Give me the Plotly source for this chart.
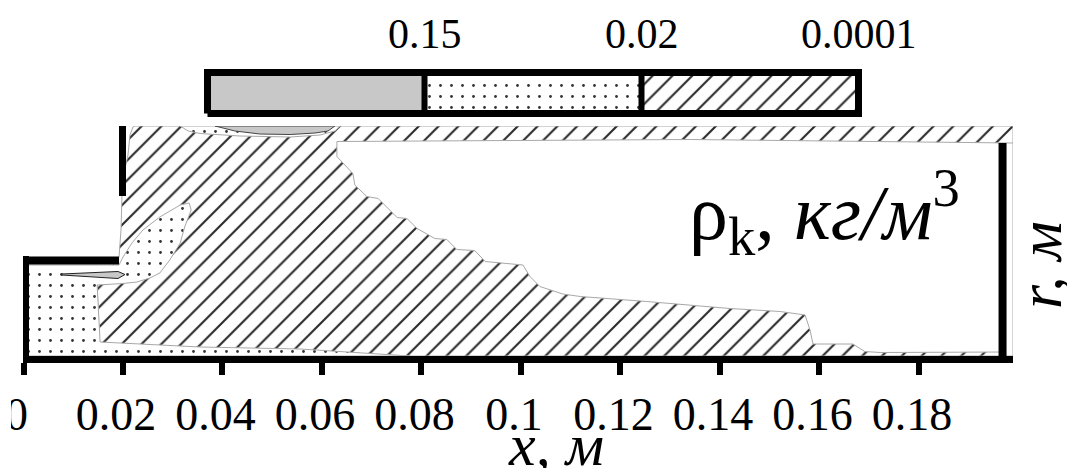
import plotly.graph_objects as go

# ---------------- data (x and r in metres) ----------------
x_ticks = [0, 0.02, 0.04, 0.06, 0.08, 0.1, 0.12, 0.14, 0.16, 0.18]
x_tick_labels = ["0", "0.02", "0.04", "0.06", "0.08", "0.1", "0.12", "0.14", "0.16", "0.18"]

legend_levels = ["0.15", "0.02", "0.0001"]

# region 0.0001..0.02 (hatched) – whole flow domain behind the others
hatch_x = [0.0224, 0.0220, 0.0214, 0.0210, 0.0200, 0.0198, 0.0196, 0.0192, 0.0148, 0.0154, 0.1989, 0.1989, 0.0224]
hatch_r = [0.0460, 0.0458, 0.0442, 0.0402, 0.0356, 0.0322, 0.0252, 0.0198, 0.0142, 0.0, 0.0, 0.0460, 0.0460]

# region 0.02..0.15 (dotted): inlet, recirculation blob, bottom strip
dots_x = [0.0009, 0.0192, 0.0200, 0.0218, 0.0240, 0.0274, 0.0315, 0.0333, 0.0337, 0.0324, 0.0315,
          0.0294, 0.0274, 0.0254, 0.0228, 0.0200, 0.0148, 0.0150, 0.0154, 0.0355, 0.0556, 0.0777,
          0.0009, 0.0009]
dots_r = [0.0182, 0.0182, 0.0198, 0.0226, 0.0252, 0.0278, 0.0302, 0.0306, 0.0292, 0.0258, 0.0226,
          0.0192, 0.0166, 0.0156, 0.0148, 0.0145, 0.0142, 0.0092, 0.0028, 0.0018, 0.0014, 0.0,
          0.0, 0.0182]
# dotted lens at the top wall
dots_top_x = [0.0315, 0.0331, 0.0355, 0.0435, 0.0536, 0.0596, 0.0626, 0.0636, 0.0315]
dots_top_r = [0.0460, 0.0450, 0.0445, 0.0440, 0.0438, 0.0442, 0.0450, 0.0460, 0.0460]

# region > 0.15 (grey)
grey_top_x = [0.0385, 0.0425, 0.0475, 0.0536, 0.0586, 0.0612, 0.0626, 0.0385]
grey_top_r = [0.0460, 0.0450, 0.0444, 0.0443, 0.0446, 0.0450, 0.0460, 0.0460]
grey_jet_x = [0.0077, 0.0190, 0.0204, 0.0190, 0.0077, 0.0077]
grey_jet_r = [0.0164, 0.0169, 0.0163, 0.0155, 0.0162, 0.0164]

# region < 0.0001 (white)
white_x = [0.0630, 0.1340, 0.1989, 0.1989, 0.1971, 0.1971, 0.1722, 0.1691, 0.1667, 0.1587, 0.1581,
           0.1571, 0.1521, 0.1420, 0.1253, 0.1119, 0.1084, 0.1038, 0.1018, 0.1004, 0.0928, 0.0907,
           0.0871, 0.0851, 0.0827, 0.0791, 0.0771, 0.0751, 0.0713, 0.0690, 0.0666, 0.0662, 0.0630, 0.0630]
white_r = [0.0429, 0.0433, 0.0426, 0.0, 0.0, 0.0008, 0.0007, 0.0009, 0.0024, 0.0024, 0.0052,
           0.0082, 0.0089, 0.0095, 0.0109, 0.0119, 0.0124, 0.0139, 0.0159, 0.0182, 0.0189, 0.0211,
           0.0213, 0.0233, 0.0235, 0.0255, 0.0275, 0.0277, 0.0315, 0.0319, 0.0342, 0.0365, 0.0399, 0.0429]

# walls (x list, r list)
wall_left_x, wall_left_r = [0.0005, 0.0005], [0.0200, 0.0]
wall_inlet_x, wall_inlet_r = [0.0, 0.0192], [0.0191, 0.0191]
wall_step_x, wall_step_r = [0.0199, 0.0199], [0.0462, 0.0320]
wall_right_x, wall_right_r = [0.1968, 0.1968], [0.0426, 0.0]

FONT = "Liberation Serif, Tinos, Times New Roman, DejaVu Serif, serif"
HATCH = dict(shape="/", size=14, solidity=0.15, fgcolor="#2a2a2a", bgcolor="white", fgopacity=1)
DOTS = dict(shape=".", size=11, solidity=0.05, fgcolor="#333333", bgcolor="white", fgopacity=1)
EDGE = "#a8a8a8"

fig = go.Figure()


def region(x, r, pattern=None, color="white", edge=EDGE, xa="x", ya="y"):
    kw = dict(x=x, y=r, mode="lines", fill="toself", fillcolor=color,
              line=dict(color=edge, width=1), hoverinfo="skip", showlegend=False,
              xaxis=xa, yaxis=ya)
    if pattern is not None:
        kw["fillpattern"] = pattern
    fig.add_trace(go.Scatter(**kw))


region(hatch_x, hatch_r, HATCH)
region(dots_x, dots_r, DOTS)
region(dots_top_x, dots_top_r, DOTS)
region(grey_top_x, grey_top_r, None, "#c8c8c8", "#444444")
region(grey_jet_x, grey_jet_r, None, "#c8c8c8", "#222222")
region(white_x, white_r, None, "white", EDGE)

for wx, wr, w in [(wall_left_x, wall_left_r, 6), (wall_inlet_x, wall_inlet_r, 8),
                  (wall_step_x, wall_step_r, 7), (wall_right_x, wall_right_r, 8)]:
    fig.add_trace(go.Scatter(x=wx, y=wr, mode="lines", line=dict(color="black", width=w),
                             hoverinfo="skip", showlegend=False))

# ---------- legend bar (on its own small axes) ----------
leg_styles = [(None, "#c8c8c8"), (DOTS, "white"), (HATCH, "white")]
for i, lev in enumerate(legend_levels):
    pat, col = leg_styles[i]
    region([i, i + 1, i + 1, i, i], [0, 0, 1, 1, 0], pat, col, col, "x2", "y2")
n = len(legend_levels)
fig.add_trace(go.Scatter(x=[0, n, n, 0, 0], y=[0, 0, 1, 1, 0], mode="lines",
                         line=dict(color="black", width=7), xaxis="x2", yaxis="y2",
                         hoverinfo="skip", showlegend=False))
for i in range(1, n):
    fig.add_trace(go.Scatter(x=[i, i], y=[0, 1], mode="lines", line=dict(color="black", width=6),
                             xaxis="x2", yaxis="y2", hoverinfo="skip", showlegend=False))

W, H = 1067, 468
annotations = []
for i, lev in enumerate(legend_levels):
    annotations.append(dict(x=i + 1, xref="x2", y=(H - 34) / H, yref="paper", text=lev,
                            showarrow=False, xanchor="center", yanchor="middle",
                            font=dict(family=FONT, size=42, color="black")))
annotations += [
    dict(x=824 / W, y=(H - 212) / H, xref="paper", yref="paper",
         text="ρ<sub>k</sub>, <i>кг/м</i><sup>3</sup>", showarrow=False,
         xanchor="center", yanchor="middle", font=dict(family=FONT, size=78, color="black")),
    dict(x=1040 / W, y=(H - 265) / H, xref="paper", yref="paper", text="<i>r, м</i>",
         textangle=-90, showarrow=False, xanchor="center", yanchor="middle",
         font=dict(family=FONT, size=62, color="black")),
    dict(x=556 / W, y=(H - 445) / H, xref="paper", yref="paper", text="<i>x, м</i>",
         showarrow=False, xanchor="center", yanchor="middle",
         font=dict(family=FONT, size=60, color="black")),
]

fig.update_layout(
    template="none",
    width=W, height=H,
    margin=dict(l=0, r=0, t=0, b=0),
    paper_bgcolor="white", plot_bgcolor="white",
    showlegend=False,
    xaxis=dict(domain=[23 / W, 1013 / W], range=[-0.0001, 0.1989], tickvals=x_ticks,
               ticktext=x_tick_labels, ticks="outside", ticklen=12, tickwidth=6,
               tickcolor="black", showline=True, linewidth=7, linecolor="black",
               showgrid=False, zeroline=False, automargin=False, ticklabelshift=-7,
               tickfont=dict(family=FONT, size=46, color="black"), anchor="y"),
    yaxis=dict(domain=[(H - 356) / H, (H - 126) / H], range=[0, 0.046], visible=False,
               automargin=False, anchor="x"),
    xaxis2=dict(domain=[204 / W, 862 / W], range=[-0.01613, 3.01613], visible=False,
                automargin=False, anchor="y2"),
    yaxis2=dict(domain=[(H - 117) / H, (H - 69) / H], range=[-0.0854, 1.0854], visible=False,
                automargin=False, anchor="x2"),
    annotations=annotations,
    shapes=[dict(type="rect", xref="paper", yref="paper", x0=0, x1=11 / W,
                 y0=(H - 435) / H, y1=(H - 380) / H, fillcolor="white",
                 line=dict(width=0), layer="above")],
)

fig.write_html("out.html")
